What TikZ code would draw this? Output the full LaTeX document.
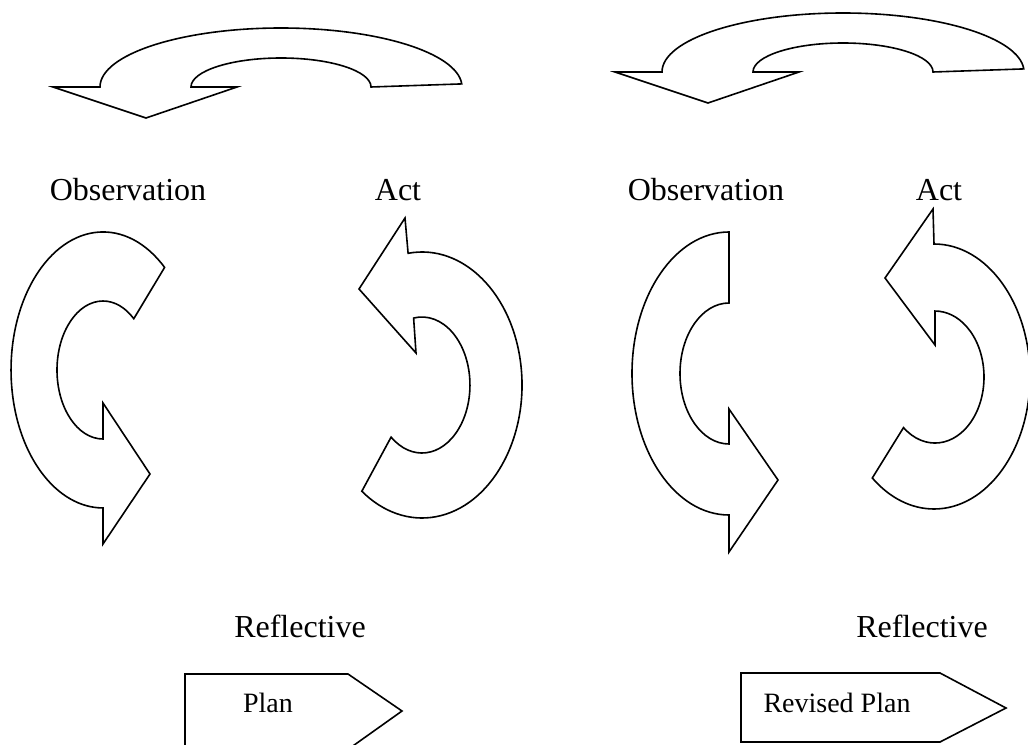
\documentclass[tikz,border=0pt]{standalone}
\usepackage{fontspec}
\setmainfont{Liberation Serif}
\begin{document}
\begin{tikzpicture}[x=0.375pt,y=0.375pt,
  outline/.style={draw=black,line width=0.6pt,line join=miter},
  word/.style={inner sep=0pt,anchor=base,font=\fontsize{12}{14}\selectfont},
  boxword/.style={inner sep=0pt,anchor=base,font=\fontsize{10.5}{12}\selectfont}]
\useasboundingbox (0,0) rectangle (1028,744);
\clip (0,0) rectangle (1028,744);
% top arrows
\draw[outline] (100,657) arc[start angle=180,end angle=3,x radius=181,y radius=59] -- (371,657)
  arc[start angle=0,end angle=180,x radius=90,y radius=29] -- (237,657) -- (146,626) -- (53,657) -- cycle;
\begin{scope}[shift={(562,15)}]
\draw[outline] (100,657) arc[start angle=180,end angle=3,x radius=181,y radius=59] -- (371,657)
  arc[start angle=0,end angle=180,x radius=90,y radius=29] -- (237,657) -- (146,626) -- (53,657) -- cycle;
\end{scope}
% left cycle
\draw[outline] (164.6,476.6) arc[start angle=48,end angle=270,x radius=92,y radius=138] -- (103,200) -- (150,270)
  -- (103,341) -- (103,305) arc[start angle=270,end angle=48,x radius=46,y radius=69] -- cycle;
\draw[outline] (408.1,490.7) arc[start angle=98,end angle=-127,x radius=100,y radius=133] -- (391.1,306.9)
  arc[start angle=-130,end angle=100,x radius=48,y radius=68] -- (416,391) -- (359,455) -- (405,526) -- cycle;
% right cycle
\draw[outline] (729,512) arc[start angle=90,end angle=270,x radius=97,y radius=141.5] -- (729,192) -- (778,264)
  -- (729,335) -- (729,300) arc[start angle=270,end angle=90,x radius=49,y radius=70.5] -- cycle;
\draw[outline] (934,500) arc[start angle=90,end angle=-130,x radius=96,y radius=132.5] -- (903.5,316.4)
  arc[start angle=-130,end angle=90,x radius=49,y radius=66] -- (935,399) -- (885,466) -- (933,535) -- cycle;
% plan boxes
\draw[outline] (185,-4) -- (185,70) -- (348,70) -- (402,33) -- (350,-4);
\draw[outline] (741,2) -- (741,71) -- (940,71) -- (1006,36) -- (940,2) -- cycle;
% labels
\node[word] (obsL) at (128,544) {Observation};
\node[word] (actL) at (398,544) {Act};
\node[word] (obsR) at (706,544) {Observation};
\node[word] (actR) at (939,544) {Act};
\node[word] (refL) at (300,107) {Reflective};
\node[word] (refR) at (922,107) {Reflective};
\node[boxword] (plan) at (268,32) {Plan};
\node[boxword] (revplan) at (837,32) {Revised Plan};
\end{tikzpicture}
\end{document}
